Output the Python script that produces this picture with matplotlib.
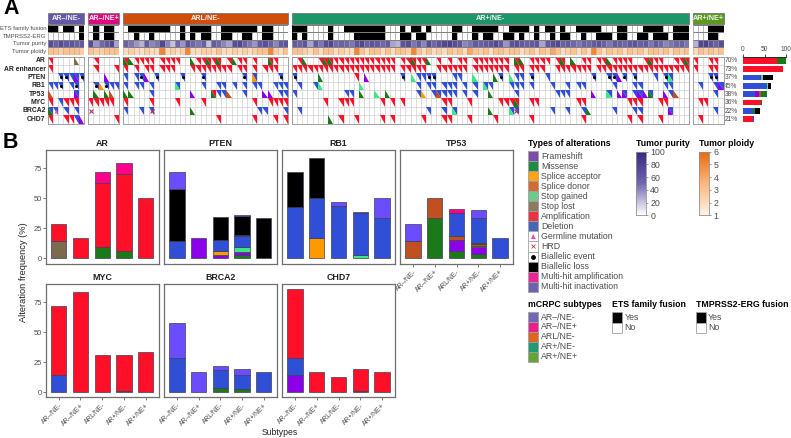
import re
import numpy as np
import matplotlib
matplotlib.use('Agg')
import matplotlib.pyplot as plt
from matplotlib.colors import LinearSegmentedColormap
from matplotlib.patches import Rectangle

plt.rcParams['font.family'] = ['Liberation Sans', 'DejaVu Sans']
W, H = 791, 438
GRAY = '#7f7f7f'
TXT = '#4d4d4d'

genes = ['AR', 'AR enhancer', 'PTEN', 'RB1', 'TP53', 'MYC', 'BRCA2', 'CHD7']
subtypes = ['AR\u2013/NE-', 'AR\u2013/NE+', 'ARL/NE-', 'AR+/NE-', 'AR+/NE+']
group_sizes = [7, 6, 32, 77, 6]
group_colors = ['#6658a8', '#e0087f', '#cf4e0c', '#1d9768', '#5c9a1e']
group_left = [48, 88.3, 123.3, 292, 692.7]
pct_labels = ['70%', '73%', '37%', '45%', '38%', '36%', '22%', '21%']

# fusion rows, 1 = yes
ets = ['1101101', '010110',
       '01111111100101111001111111011000',
       '11100001001111111100010110100001100111110011110101101001111100011000111100111'[:77],
       '000111']
tmprss = ['0000001', '010110',
          '00100100000101011001100110011000',
          '10100001000011111100011011000001000101100110100100101100100111011001101110111'[:77],
          '000110']

purity = [[70, 55, 70, 60, 65, 55, 60],
          [70, 35, 50, 60, 75, 30],
          [55, 45, 35, 25, 60, 40, 45, 75, 40, 20, 50, 35, 65, 50, 45, 55,
           20, 60, 50, 40, 30, 70, 75, 55, 45, 35, 60, 70, 55, 40, 60, 65],
          [60, 55, 65, 30, 60, 45, 70, 75, 50, 55, 50, 45, 65, 75, 55, 65, 60, 50, 60, 30, 25, 65,
           70, 45, 60, 40, 70, 50, 65, 75, 80, 70, 65, 40, 45, 60, 55, 60, 65, 75, 60, 35, 65,
           70, 60, 55, 60, 65, 30, 60, 70, 75, 55, 60, 50, 45, 55, 50, 60, 65, 55, 45, 60, 55,
           50, 60, 65, 55, 60, 45, 60, 50, 40, 45, 50, 55, 45],
          [25, 75, 80, 65, 55, 70]]
ploidy = [[3, 3, 2.5, 3, 3, 3, 2.5],
          [3, 2.5, 2.5, 3, 3, 3],
          [2, 2.5, 2, 1.8, 2.5, 2, 2, 5, 2, 2.5, 2, 2.5, 5, 2, 2, 2.5,
           2.5, 2, 3, 2, 2, 2.5, 2, 2.5, 2, 2.5, 3, 3, 5, 2.5, 2, 3],
          [3, 3, 2.5, 2, 3, 2, 3, 3, 2, 2.5, 2, 2, 5, 3, 2, 3, 3, 2, 3, 2, 3, 3,
           2.5, 5, 3, 2, 3, 2, 2.5, 2, 3, 2.5, 3, 2, 4, 3, 2.5, 3, 2, 3, 3, 2.5, 3,
           3, 2, 2.5, 3, 2, 3, 2.5, 4, 3, 2, 2.5, 3, 2, 3, 2, 5, 3, 2, 3, 2.5, 3,
           2, 3, 2.5, 3, 2, 3, 3, 2.5, 3, 2, 3, 2.5, 3],
          [2, 3, 2.5, 3, 2.5, 3]]

# events per gene: column (or range) + codes
# A amp, D del, m missense, f frameshift, a acceptor, d donor, g gained, l lost
# * biallelic, x HRD, t germline
g1_events = ['0A 5l', '0A', '2D* 3D* 4D 5Df 6D*', '0D 1D 2D* 4D 5D*', '0d 5Df',
             '0A 2D 3A 4A 5A', '0Dm 1Dt 3D 5D', '0A 3A 4A 5A 5D 6f']
g2_events = ['1A', '1A 5A', '3f', '1D* 2a 3D* 4D 5D', '1m 3m 4d', '0-4A', '0x', '5A']
g3_events = ['0Am 1m 2-5A 7-10A 13m 14A 15A 16Am 17A 18Am 20A 21m 22A 23A 25A 28Am 29A',
             '0A 2A 4A 5A 7-9A 13-20A 22A 23A 25A 27-29A',
             '0D 2D 3D* 4f 6D* 11D* 15D* 23D* 25Da 30D*',
             '0D 2D 3D 5D 10Dg 15D 18D 19D 21D 23D 25D 26D 29-31D',
             '0m 1m 5D 13f 17Am 18D 19D 20d 23D 27f 28f 30D 31D',
             '0A 5A 10A 15A 25A 28-31A',
             '0D 3D 5Dx 13m 26D 27D 31D',
             '18A 25A 29A 31A']
g4_events = ['1A 2m 5A 6Am 7Am 8-19A 21A 22A 23Am 24A 25A 26m 28A 30A 32A 33A 35-41A 43Am 44m 46-49A 51A 52Am 54m 56A 57A 59A 60A 61m 62-65A 68A 69Am 70A 71A 74A 75A 76Am',
             '0-19A 21-25A 28-33A 35-41A 43A 44A 46-48A 51-57A 59-76A',
             '0D* 5m 12A 14f 21D* 23g 24D 25D 26D* 27D* 31D 32D 35g 39m 40D* 42g 43D 44D 46D* 49D 58D* 61D* 62D* 63f 64D* 66D* 70D 72D* 73Dg',
             '1D 4D 5g 13g 24D 26D 27D 29-31D 33D 35D 37Dg 38D 42D 43D 44D 46D 50D 53D 55D 56D 62D 66D 67D 72D 73D',
             '0D 10D 11D 13m 16g 18m 24D 25a 27D 28Dd 29-31D 33D 35D 38m 43D 51-53D 58f 61Dg 63f 64Df 66D 67Df 68f 69Dm 72f 73D 74d',
             '6A 9-11A 17A 19A 21A 29A 30A 34A 40-42A 43Am 46A 47A 55A 56A 65A 66A 67A 71A 72A',
             '1D 26D 29D 31Dg 38m 42Dg 43Dx 50D 53D 56D 57m 62D 66D 67D 73Df',
             '7m 9A 12A 17A 19A 25A 29A 30A 34A 39A 46A 56A 65A 67A 71A']
g5_events = ['0A 3A 4A', '0A 3A 4A', '3D* 4D*', '1D 4D 5Df', '4D', '1A 2A', '4D', '1A']

# panel B stacks, bottom to top: (code, value)
ar_stack = [[('l', 14.3), ('A', 14.3)], [('A', 16.7)], [('m', 9.4), ('A', 53.1), ('M', 9.4)],
            [('m', 6.5), ('A', 63.6), ('M', 9.1)], [('A', 50)]]
pten_stack = [[('D', 14.3), ('B', 42.9), ('I', 14.3)], [('f', 16.7)],
              [('f', 3.1), ('a', 3.1), ('D', 9.4), ('B', 18.8)],
              [('m', 2.6), ('f', 2.6), ('g', 3.9), ('D', 9.1), ('R', 1.3), ('B', 15.6), ('I', 1.3)],
              [('B', 33.3)]]
rb1_stack = [[('D', 42.9), ('B', 28.6)], [('a', 16.7), ('D', 33.3), ('B', 33.3)],
             [('D', 43.8), ('I', 3.1)], [('g', 2.6), ('D', 35), ('I', 1.3)],
             [('D', 33.3), ('I', 16.7)]]
tp53_stack = [[('d', 14.3), ('I', 14.3)], [('m', 33.3), ('d', 16.7)],
              [('m', 6.25), ('f', 9.4), ('d', 3.1), ('D', 18.75), ('M', 3.1)],
              [('m', 3.9), ('f', 5.2), ('a', 1.3), ('d', 1.3), ('m', 1.3), ('D', 20.8), ('I', 6.5)],
              [('D', 16.7)]]
myc_stack = [[('D', 14.3), ('A', 57.1)], [('A', 83.3)], [('A', 31.25)],
             [('m', 1.3), ('A', 29.9)], [('A', 33.3)]]
brca2_stack = [[('D', 28.6), ('I', 28.6)], [('I', 16.7)], [('m', 3.1), ('D', 15.6), ('I', 3.1)],
               [('m', 2.6), ('D', 11.7), ('I', 5.2)], [('D', 16.7)]]
chd7_stack = [[('f', 14.3), ('D', 14.3), ('A', 57.1)], [('A', 16.7)], [('A', 12.5)],
              [('m', 1.3), ('A', 18.2)], [('A', 16.7)]]

# side bars in panel A
side_stack = [[('A', 80), ('m', 19)], [('A', 93)],
              [('D', 40), ('f', 3), ('g', 4), ('B', 23)],
              [('D', 55), ('g', 4), ('B', 5)],
              [('D', 28), ('f', 10), ('d', 3), ('m', 14)],
              [('A', 43), ('m', 2)],
              [('D', 24), ('m', 4), ('B', 12)],
              [('A', 24), ('D', 2)]]

colors = {'A': '#ff1028', 'D': '#2e4fd6', 'm': '#1a7a1a', 'f': '#8b00e8', 'a': '#ff9900',
          'd': '#c05020', 'g': '#3de882', 'l': '#7d6a4d', 'B': '#000000', 'M': '#ff0088',
          'I': '#6b4dff', 'R': '#8a0a20'}

type_names = ['Frameshift', 'Missense', 'Splice acceptor', 'Splice donor', 'Stop gained',
              'Stop lost', 'Amplification', 'Deletion', 'Germline mutation', 'HRD',
              'Biallelic event', 'Biallelic loss', 'Multi-hit amplification', 'Multi-hit inactivation']
type_keys = ['#7d4ca6', '#1f8c46', '#ffa414', '#d06a38', '#70c98c', '#8c7a5e', '#ee3340',
             '#4468b8', 'white', 'white', 'white', '#000000', '#ec2594', '#6d62ae']
subtype_keys = ['#7268b4', '#e8208c', '#de6420', '#1f9c74', '#64a53a']

purity_cmap = LinearSegmentedColormap.from_list('pur', ['#ffffff', '#6f66ad', '#37277f'])
ploidy_cmap = LinearSegmentedColormap.from_list('plo', ['#fff3e6', '#fdb67a', '#e8680c'])


def px_axes(x0, y0, x1, y1):
    return fig.add_axes([x0 / W, 1 - y1 / H, (x1 - x0) / W, (y1 - y0) / H])


fig = plt.figure(figsize=(W / 100, H / 100), dpi=100)
page = fig.add_axes([0, 0, 1, 1])
page.set_xlim(0, W)
page.set_ylim(H, 0)
page.axis('off')

page.text(3, 9, 'A', fontsize=15.5, fontweight='bold', va='center')
page.text(3, 143, 'B', fontsize=15.5, fontweight='bold', va='center')

# panel A
cell_w = 5.155
row_h = 8.37
all_events = [g1_events, g2_events, g3_events, g4_events, g5_events]
for g, n in enumerate(group_sizes):
    left = group_left[g]
    right = left + n * cell_w
    # header
    page.add_patch(Rectangle((left, 12.7), right - left, 11.6, fc=group_colors[g], ec=GRAY, lw=0.7))
    page.text((left + right) / 2, 18.7, subtypes[g], color='#f2f2f2', fontsize=5.2,
              fontweight='bold', ha='center', va='center')

    ax = px_axes(left, 25, right, 54.5)
    xe = np.arange(n + 1)
    ax.vlines(xe, 0, 4, color='#9a9a9a', lw=0.5, zorder=0.5)
    # fusion cells: only the black ones are drawn, over the grid
    for row, flags in enumerate([ets[g], tmprss[g]]):
        vals = np.ma.masked_equal(np.array([[int(c) for c in flags]]), 0)
        ax.pcolormesh(xe, [row, row + 1], vals, cmap='gray_r', vmin=0, vmax=1, zorder=1)
    ax.pcolormesh(xe, [2, 3], np.array([purity[g]]), cmap=purity_cmap, vmin=0, vmax=100, zorder=1)
    ax.pcolormesh(xe, [3, 4], np.array([ploidy[g]]), cmap=ploidy_cmap, vmin=1, vmax=6, zorder=1)
    ax.set_xlim(0, n)
    ax.set_ylim(4, 0)
    ax.axis('off')
    ax.vlines(xe, 2, 4, color='#a8a8a8', lw=0.4, zorder=2)
    ax.hlines(np.arange(5), 0, n, color=GRAY, lw=0.7, zorder=2)

    ax = px_axes(left, 56.5, right, 123.5)
    ax.set_xlim(0, n)
    ax.set_ylim(8, 0)
    ax.set_xticks([])
    ax.set_yticks([])
    for s in ax.spines.values():
        s.set_color('#a0a0a0')
        s.set_linewidth(0.7)
    ax.vlines(np.arange(n + 1), 0, 8, color='#cfcfcf', lw=0.5, zorder=1)
    ax.hlines(np.arange(9), 0, n, color='#cfcfcf', lw=0.5, zorder=1)
    for r, spec in enumerate(all_events[g]):
        for a, b, codes in re.findall(r'(\d+)(?:-(\d+))?([A-Za-z*]+)', spec):
            for c in range(int(a), int(b or a) + 1):
                for code in codes:
                    if code in 'AD':
                        ax.fill([c, c + 1, c + 1], [r, r, r + 1], color=colors[code], lw=0, zorder=2)
                    elif code == '*':
                        ax.plot(c + 0.5, r + 0.5, 'o', color='black', ms=2.2, mew=0, zorder=4)
                    elif code == 'x':
                        ax.plot(c + 0.5, r + 0.5, 'x', color='#b03060', ms=3.5, mew=0.8, zorder=4)
                    elif code == 't':
                        ax.plot(c + 0.5, r + 0.5, '^', color='#f050b0', ms=2.8, mew=0, zorder=4)
                    else:
                        ax.fill([c, c, c + 1], [r, r + 1, r + 1], color=colors[code], lw=0, zorder=3)

for label, y in zip(['ETS family fusion', 'TMPRSS2-ERG', 'Tumor purity', 'Tumor ploidy'],
                    [28.7, 36.3, 43.8, 51]):
    page.text(46.5, y, label, fontsize=4.3, color=TXT, ha='right', va='center')
for i, g in enumerate(genes):
    page.text(45.5, 56.5 + (i + 0.5) * row_h, g, fontsize=4.9, fontweight='bold', ha='right',
              va='center', color='#222222')

side = px_axes(743, 56.5, 786, 123.5)
side.set_xlim(0, 100)
side.set_ylim(7.5, -0.5)
for i, stack in enumerate(side_stack):
    left_val = 0
    for code, v in stack:
        side.barh(i, v, left=left_val, height=0.68, color=colors[code], lw=0)
        left_val += v
    page.text(731, 56.5 + (i + 0.5) * row_h + 0.3, pct_labels[i], fontsize=4.8, color=TXT,
              ha='center', va='center')
for s in ['left', 'right', 'bottom']:
    side.spines[s].set_visible(False)
side.spines['top'].set_linewidth(0.6)
side.xaxis.tick_top()
side.set_xticks([0, 50, 100])
side.tick_params(axis='x', labelsize=4.8, length=2, width=0.5, pad=0.5, labelcolor=TXT)
side.set_yticks([])

# panel B
panels = [('AR', ar_stack), ('PTEN', pten_stack), ('RB1', rb1_stack), ('TP53', tp53_stack),
          ('MYC', myc_stack), ('BRCA2', brca2_stack), ('CHD7', chd7_stack)]
xpos = [(45.7, 158.7), (164, 276.7), (282, 395), (400, 513)]
ypos = [(150, 263.5), (284, 397.3)]
for i, (name, stacks) in enumerate(panels):
    row, col = i // 4, i % 4
    ax = px_axes(xpos[col][0], ypos[row][0], xpos[col][1], ypos[row][1])
    for k, stack in enumerate(stacks):
        bottom = 0
        for code, v in stack:
            ax.bar(k + 1, v, 0.7, bottom=bottom, color=colors[code], edgecolor='#3d3d55', lw=0.5)
            bottom += v
    ax.set_xlim(0.4, 5.6)
    ax.set_ylim(-4.28, 90)
    for s in ax.spines.values():
        s.set_color('#6e6e6e')
        s.set_linewidth(0.9)
    ax.set_title(name, fontsize=6.4, fontweight='bold', pad=3, color='#222222')
    if col == 0:
        ax.set_yticks([0, 25, 50, 75])
        ax.tick_params(axis='y', labelsize=5.4, length=2, width=0.5, labelcolor=TXT, pad=1, color='#444444')
    else:
        ax.set_yticks([])
    if row == 1 or col == 3:
        ax.set_xticks(range(1, 6))
        ax.set_xticklabels(subtypes, rotation=45, ha='right', rotation_mode='anchor')
        ax.tick_params(axis='x', labelsize=4.9, length=2, width=0.5, labelcolor=TXT, pad=1.5, color='#444444')
    else:
        ax.set_xticks([])

page.text(24, 272, 'Alteration frequency (%)', fontsize=6.7, rotation=90, ha='center', va='center', color='#222222')
page.text(280, 432.5, 'Subtypes', fontsize=6.2, ha='center', va='center', color='#222222')

# legends
key_h = 10.05
page.text(528, 143.5, 'Types of alterations', fontsize=6.3, fontweight='bold', va='center')
for i, (n, c) in enumerate(zip(type_names, type_keys)):
    y = 151 + i * key_h
    page.add_patch(Rectangle((527.7, y), 10.1, key_h, fc=c, ec='#a0a0a0', lw=0.6))
    page.text(541, y + key_h / 2, n, fontsize=6.35, color=TXT, va='center')
page.plot(532.8, 151 + 8.5 * key_h, '^', color='#f050b0', ms=3.6, mew=0)
page.plot(532.8, 151 + 9.5 * key_h, 'x', color='#c04040', ms=3, mew=0.6)
page.plot(532.8, 151 + 10.5 * key_h, 'o', color='black', ms=3.5, mew=0)

page.text(528, 304.7, 'mCRPC subtypes', fontsize=6.3, fontweight='bold', va='center')
for i, (n, c) in enumerate(zip(subtypes, subtype_keys)):
    y = 312 + i * 9.95
    page.add_patch(Rectangle((527.7, y), 10.1, 9.95, fc=c, ec='#a0a0a0', lw=0.6))
    page.text(540.5, y + 5, n, fontsize=6.35, color=TXT, va='center')

for x, title in [(612, 'ETS family fusion'), (695.8, 'TMPRSS2-ERG fusion')]:
    page.text(x, 304.7, title, fontsize=6.3, fontweight='bold', va='center')
    page.add_patch(Rectangle((x, 312.3), 10, 10.2, fc='black', ec='#a0a0a0', lw=0.6))
    page.add_patch(Rectangle((x, 322.5), 10, 10.2, fc='white', ec='#a0a0a0', lw=0.6))
    page.text(x + 12.5, 317.6, 'Yes', fontsize=6.35, color=TXT, va='center')
    page.text(x + 12.5, 327.6, 'No', fontsize=6.35, color=TXT, va='center')

purity_ticks = [0, 20, 40, 60, 80, 100]
ploidy_ticks = [1, 2, 3, 4, 5, 6]
for x, title, cmap, ticks in [(636, 'Tumor purity', purity_cmap, purity_ticks),
                              (699.3, 'Tumor ploidy', ploidy_cmap, ploidy_ticks)]:
    page.text(x, 143.5, title, fontsize=6.3, fontweight='bold', va='center')
    cb = px_axes(x, 151.5, x + 10, 215.5)
    cb.imshow(np.linspace(1, 0, 100).reshape(-1, 1), cmap=cmap, aspect='auto',
              extent=(0, 1, ticks[0], ticks[-1]))
    cb.set_xticks([])
    cb.yaxis.tick_right()
    cb.set_yticks(ticks)
    cb.tick_params(axis='y', labelsize=6.35, labelcolor=TXT, length=1.5, width=0.4, pad=1.5, color='#555555')
    for s in cb.spines.values():
        s.set_color('#909090')
        s.set_linewidth(0.6)

fig.savefig('out.png', dpi=100)
